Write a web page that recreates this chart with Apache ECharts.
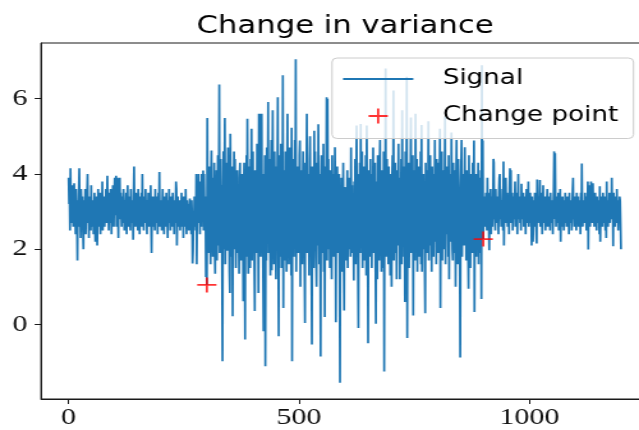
<!DOCTYPE html>
<html>
<head>
<meta charset="utf-8">
<script src="https://cdn.jsdelivr.net/npm/echarts@6/dist/echarts.min.js"></script>
<style>
  html, body { margin: 0; padding: 0; width: 639px; height: 430px; overflow: hidden; background: #fff; }
  /* the figure is laid out at its native width and widened to the page */
  #chart { width: 540px; height: 430px; transform: scaleX(1.278); transform-origin: 0 0; }
</style>
</head>
<body>
<div id="chart"></div>
<script>
// Signal, regime 1: low variance (samples 0-299)
const quietStart = [
  3.9, 3.2, 3.5, 2.5, 4.15, 3.0, 3.3, 2.7, 3.7, 3.1, 2.6, 3.4, 3.75, 2.9, 3.2, 2.4, 3.6, 3.0, 2.8, 1.7,
  3.3, 2.6, 3.5, 4.15, 2.9, 3.1, 2.3, 3.6, 3.2, 2.7, 3.4, 2.5, 2.0, 3.3, 3.0, 2.8, 3.6, 2.4, 3.1, 2.9,
  3.5, 4.0, 2.7, 3.0, 2.3, 3.4, 2.9, 3.2, 2.5, 3.7, 2.8, 3.1, 2.6, 3.3, 2.4, 3.0, 3.5, 2.7, 2.2, 3.2,
  2.9, 3.4, 2.1, 3.0, 3.6, 2.6, 3.2, 2.8, 3.5, 2.4, 3.1, 3.3, 2.7, 3.8, 2.5, 3.0, 2.9, 3.4, 2.6, 3.2,
  3.0, 3.6, 2.7, 3.3, 3.95, 2.8, 3.1, 2.5, 3.5, 3.0, 2.7, 3.6, 3.2, 2.4, 3.4, 2.9, 3.7, 3.1, 2.6, 3.5,
  3.9, 2.9, 3.4, 3.95, 2.6, 3.7, 3.9, 3.0, 2.3, 3.85, 3.3, 3.9, 2.8, 3.5, 3.1, 2.6, 3.4, 3.0, 2.7, 3.6,
  3.2, 2.5, 3.3, 3.0, 2.8, 3.5, 2.4, 3.1, 3.7, 2.9, 3.2, 2.6, 3.4, 3.0, 2.5, 3.6, 2.8, 3.3, 2.7, 3.1,
  2.25, 3.4, 4.2, 2.9, 3.2, 2.6, 3.5, 3.0, 2.7, 3.3, 2.5, 3.6, 2.9, 3.1, 2.4, 3.4, 3.0, 2.8, 3.5, 2.6,
  4.0, 2.9, 3.2, 2.5, 3.4, 3.0, 2.7, 3.6, 2.9, 3.1, 2.4, 3.3, 2.8, 3.5, 3.0, 2.6, 3.2, 2.9, 3.7, 2.7,
  1.9, 3.1, 2.8, 3.4, 2.6, 3.0, 3.3, 2.5, 3.6, 2.9, 3.2, 2.7, 3.4, 2.4, 3.0, 3.5, 2.8, 4.05, 2.6, 3.1,
  2.9, 3.3, 2.5, 3.0, 3.6, 2.7, 3.2, 2.4, 3.4, 2.9, 3.1, 2.6, 3.5, 2.8, 3.0, 2.3, 3.3, 2.9, 3.6, 2.7,
  3.1, 2.5, 3.4, 2.8, 3.0, 2.6, 3.5, 2.9, 3.2, 2.4, 3.3, 2.7, 3.0, 3.8, 3.6, 2.1, 2.9, 3.4, 2.6, 3.1,
  2.8, 3.3, 2.5, 3.1, 2.9, 3.5, 2.6, 3.0, 3.2, 2.3, 3.4, 2.8, 3.1, 2.6, 3.6, 2.9, 2.4, 3.3, 3.0, 2.7,
  3.2, 2.5, 3.0, 3.35, 2.8, 3.1, 2.4, 3.3, 2.9, 1.62, 1.96, 3.0, 2.6, 3.4, 2.8, 3.2, 2.5, 4.0, 1.6, 3.1,
  3.6, 2.7, 4.0, 2.9, 3.3, 2.4, 3.8, 3.0, 2.6, 4.0, 3.2, 2.8, 4.09, 2.5, 4.0, 3.0, 2.7, 3.4, 1.26, 2.8
];

// Signal, regime 2: high variance (samples 300-899)
const noisyMiddle = [
  1.05, 5.49, 2.4, 3.8, 1.9, 4.2, 2.7, 3.3, 1.6, 4.0, 4.62, 2.2, 3.5, 1.8, 3.9, 2.6, 4.3, 2.0, 1.35, 3.6,
  2.5, 4.1, 1.7, 3.2, 4.5, 2.1, 3.4, 6.38, 1.9, 3.0, 4.4, 2.3, 3.7, 1.5, -0.98, 3.3, 4.6, 2.0, 2.8, 5.49,
  1.6, 3.9, 2.6, 4.3, 1.96, 3.1, 4.7, 2.2, 3.5, 1.4, 0.84, 5.07, 2.9, 3.8, 1.8, 4.2, 0.22, 3.4, 2.5, 4.6,
  2.0, 4.4, 3.0, 1.5, 3.7, 2.3, 4.1, 1.9, 3.3, 2.7, 1.35, 3.9, 4.3, 2.1, 3.6, 1.7, 4.0, 2.8, 3.2, 0.62,
  3.5, 4.3, 2.4, -0.4, 3.8, 1.8, 4.5, 2.6, 5.47, 3.1, 1.35, 4.2, 2.0, 3.6, 1.5, 4.4, 2.9, 5.2, 1.7, 3.3,
  4.6, 2.2, 3.9, 1.6, 0.36, 4.1, 2.7, 3.4, 1.9, 4.8, 2.5, 3.7, 0.84, 5.6, 2.1, 4.3, 5.6, 1.8, 3.5, 5.6,
  2.4, 4.0, 1.5, -0.18, 3.8, 2.9, 4.5, -1.11, 3.2, 1.7, 4.7, 2.3, 3.6, 5.91, 1.9, 3.0, 4.4, 2.6, 1.3, 3.9,
  4.9, 1.44, 3.4, 5.69, 2.1, 3.7, 1.6, 4.6, 2.8, 3.3, 1.2, 4.2, 2.5, 3.9, 6.04, 2.0, -0.31, 4.5, 1.8, 3.5,
  2.7, 4.8, 1.5, 3.6, 2.2, 6.62, 0.44, 4.1, 2.9, 3.4, 1.7, 4.6, 2.4, 1.4, 3.8, 5.6, 2.0, 4.3, 1.6, 3.1,
  4.7, 2.5, 3.6, 1.3, 5.23, -0.98, 3.9, 2.2, 4.4, 1.8, 3.3, 4.9, 2.6, 7.05, 1.4, 3.7, 2.9, 4.2, 1.9, 3.5,
  2.3, 4.5, 4.89, 1.0, 3.8, 2.7, 4.1, 1.6, 3.4, 4.6, 2.0, 3.1, 1.5, 0.04, 4.3, 2.8, 3.6, 5.6, 1.9, 4.0,
  2.4, 3.7, 1.3, 4.4, 5.0, 2.6, 3.3, 1.7, -0.53, 4.2, 2.9, 3.8, 1.5, 5.15, 2.2, 4.6, 3.0, 1.8, 1.0, 3.9,
  4.3, 2.1, 5.32, 3.5, 1.6, 4.0, 2.7, -0.85, 3.6, 4.5, 1.9, 3.2, 2.5, 4.8, 1.4, 3.7, 0.2, 4.2, 2.3, 3.4,
  6.04, 1.7, 6.0, 3.1, 4.4, 2.0, 3.8, 1.5, 4.1, 2.6, 3.3, 1.2, 4.5, 2.9, 3.6, 1.8, 4.0, 2.4, 4.71, 3.0,
  0.06, 3.7, 2.5, 4.2, 1.9, 3.4, 2.8, 4.0, 1.6, -1.55, 3.5, 2.2, 3.9, 1.4, 3.1, 2.7, 4.3, 2.0, 0.37, 3.6,
  2.4, 3.65, 1.7, 3.2, 2.8, 4.1, 1.5, 3.4, 2.6, 3.9, 2.0, 3.0, 1.8, 4.7, 2.5, 3.7, 1.9, 3.3, 2.9, 1.17,
  3.8, 2.3, 4.4, 1.6, 3.5, 5.29, 2.1, 4.0, 1.4, -0.09, 3.6, 2.7, 4.3, 1.9, 5.33, 3.1, 2.4, 4.6, 1.5, 3.4,
  2.8, 4.2, 1.7, 3.9, 2.2, 4.5, 1.3, 5.29, 3.0, 2.5, -0.5, 4.1, 2.9, 3.6, 1.8, 4.4, 2.3, 3.7, 1.5, 4.0,
  2.6, 4.7, 1.9, 3.4, 2.1, 4.3, 1.6, 0.02, 3.8, 2.7, 1.2, 4.5, 2.4, 3.5, 1.7, 4.2, 4.9, 2.0, 3.6, 1.4,
  4.1, 2.8, 3.3, 1.5, 4.6, -1.25, 3.9, 2.3, 6.8, 1.8, 3.5, 4.4, 2.6, 3.0, 1.6, 4.2, 2.2, 3.7, 1.3, 4.0,
  2.9, 1.0, 3.8, 4.5, 2.4, 6.22, 1.7, 3.4, 2.8, 4.3, 1.9, 3.6, 1.2, 4.1, 2.5, 3.2, 4.8, 2.1, 3.9, 1.2,
  3.5, 2.7, 4.4, 1.6, 5.69, 3.0, 2.2, 4.2, 1.8, 3.7, 0.6, 4.6, 2.4, 3.3, 6.58, -0.36, 3.9, 2.0, 4.3, 1.5,
  3.6, 2.8, 4.0, 5.5, 1.9, 3.4, 2.5, 4.5, 0.24, 3.8, 2.2, 4.1, 1.7, 5.6, 3.1, 2.6, 4.4, 1.4, 3.5, 2.9,
  4.2, 1.8, 3.7, 2.3, 4.6, 1.6, 5.3, 1.4, 3.9, 2.7, 4.0, 2.0, 3.4, 1.5, 0.3, 4.3, 2.5, 3.6, 1.9, 4.1,
  2.8, 5.4, 1.7, 3.8, 2.4, 4.5, 2.1, 3.3, 1.4, 4.2, 2.9, 3.6, 1.8, 4.0, 2.6, 4.9, 2.2, 3.5, 1.6, 4.4,
  2.7, 3.9, 1.9, 4.3, 2.3, 3.6, 5.2, 0.44, 3.4, 2.8, 4.6, 1.7, 3.7, 2.5, 4.1, 2.0, 3.2, 5.53, 1.6, 3.8,
  2.4, 4.2, 2.9, 3.5, 1.8, 4.5, 1.2, 3.6, 2.6, 4.0, 2.2, 5.1, 3.1, 2.0, 1.7, 4.3, 2.7, 3.4, 1.9, 4.1,
  1.0, 3.7, 4.9, 2.3, 3.9, 1.6, 4.4, 2.8, 3.2, 2.0, -0.88, 3.5, 4.2, 4.9, 1.8, 3.6, 2.5, 4.0, 2.1, 3.3,
  4.71, 2.4, 3.8, 1.7, 4.1, 2.7, 3.4, 2.0, 0.95, 4.5, 2.9, 3.6, 1.5, 4.0, 2.3, 3.7, 1.9, 4.3, 2.6, 3.2,
  4.89, 0.33, 3.5, 2.2, 4.0, 1.8, 3.6, 2.7, 3.1, 4.3, 1.6, 3.9, 2.4, 3.4, 1.9, 4.1, 0.68, 6.89, 2.8, 4.89
];

// Signal, regime 3: low variance again (samples 900-1199)
const quietEnd = [
  2.27, 3.2, 2.8, 3.4, 2.6, 3.1, 3.5, 2.9, 2.5, 3.9, 3.0, 3.5, 2.7, 1.97, 3.3, 2.9, 3.6, 2.4, 3.1, 3.4,
  2.6, 3.0, 4.4, 4.3, 2.8, 3.3, 2.5, 3.6, 3.0, 2.7, 3.4, 2.9, 3.2, 2.4, 3.5, 3.9, 4.0, 2.8, 3.1, 2.6,
  3.3, 2.9, 3.6, 2.5, 4.33, 2.1, 3.2, 2.8, 3.4, 3.9, 2.7, 3.1, 3.5, 2.6, 3.0, 3.3, 2.4, 3.6, 4.15, 2.9,
  4.1, 2.7, 3.2, 3.5, 2.5, 3.0, 3.4, 2.8, 3.1, 3.8, 2.6, 3.3, 2.9, 3.5, 2.4, 3.2, 4.0, 2.8, 3.0, 3.4,
  2.7, 3.1, 2.5, 3.74, 3.0, 2.8, 3.3, 3.5, 2.6, 3.2, 2.9, 3.4, 2.4, 3.1, 3.6, 2.7, 3.0, 3.3, 3.8, 2.6,
  3.2, 2.9, 3.5, 2.7, 3.1, 2.1, 3.4, 2.8, 2.2, 3.0, 3.3, 2.6, 3.5, 2.9, 3.2, 2.5, 2.15, 3.85, 3.0, 2.7,
  3.4, 2.8, 3.1, 3.84, 2.6, 3.3, 2.9, 3.5, 2.4, 3.0, 3.7, 2.7, 3.2, 2.9, 3.4, 2.5, 3.1, 2.8, 3.3, 3.6,
  2.6, 3.0, 3.4, 2.8, 3.2, 2.5, 3.5, 2.9, 3.1, 2.7, 3.3, 2.4, 3.0, 3.6, 4.6, 2.8, 4.55, 3.2, 2.6, 3.4,
  2.9, 3.1, 2.7, 3.5, 2.5, 3.2, 2.9, 3.6, 2.2, 3.0, 3.3, 2.6, 3.4, 2.8, 3.1, 2.5, 3.3, 2.9, 3.5, 2.7,
  3.2, 2.6, 3.0, 3.4, 2.8, 3.1, 2.4, 3.5, 2.9, 3.2, 2.7, 3.3, 2.5, 3.0, 3.6, 3.9, 2.8, 3.1, 2.6, 3.4,
  2.9, 3.2, 2.5, 3.5, 2.8, 3.0, 3.4, 2.6, 3.3, 2.9, 3.1, 2.4, 3.5, 2.7, 4.28, 3.0, 2.6, 3.3, 2.9, 3.2,
  2.7, 3.5, 2.9, 3.1, 2.5, 3.4, 2.8, 3.8, 1.99, 3.2, 3.0, 3.7, 2.6, 3.3, 3.8, 2.9, 3.1, 2.7, 3.75, 2.8,
  3.3, 2.6, 3.0, 3.5, 2.8, 3.2, 2.5, 3.4, 2.9, 3.1, 2.7, 3.3, 2.4, 3.67, 2.2, 3.0, 3.4, 2.8, 3.2, 2.6,
  3.5, 2.9, 3.1, 2.7, 3.4, 2.5, 3.0, 2.3, 3.8, 2.8, 3.3, 2.6, 3.2, 2.9, 3.5, 2.7, 3.1, 3.4, 2.8, 3.9,
  3.0, 3.3, 2.08, 3.5, 2.9, 3.2, 2.6, 3.4, 3.0, 2.7, 3.6, 2.9, 3.1, 2.5, 3.3, 2.8, 3.4, 3.3, 2.7, 2.0
];

const xTicks = [0, 500, 1000];
const yTicks = [0, 2, 4, 6];
const titleText = 'Change in variance';
const signalName = 'Signal';
const changeName = 'Change point';

const signal = quietStart.concat(noisyMiddle, quietEnd);
// a change point sits at the first sample of each new regime
const changePoints = [quietStart.length, quietStart.length + noisyMiddle.length];

// axis limits with a 5% margin on each side of the data
const n = signal.length;
const xPad = 0.05 * (n - 1);
const yLo = Math.min.apply(null, signal);
const yHi = Math.max.apply(null, signal);
const yPad = 0.05 * (yHi - yLo);

const ink = '#1a1a1a';
const lineColor = '#1f77b4';
const plusSymbol = 'path://M0,4.4H10V5.6H0Z M4.4,0H5.6V10H4.4Z';
const lineIcon = 'path://M0,0H55V1.8H0Z';
const tickFont = { fontFamily: 'Liberation Serif', fontSize: 23.5, color: '#111' };
const plainNumber = function (v) { return String(v); };

const chart = echarts.init(document.getElementById('chart'), null, { renderer: 'canvas' });
chart.setOption({
  animation: false,
  backgroundColor: '#fff',
  title: {
    text: titleText,
    left: 'center',
    top: 15,
    padding: 0,
    textStyle: { fontFamily: 'DejaVu Sans', fontSize: 24, fontWeight: 'normal', color: '#000' }
  },
  grid: {
    left: 32.1, right: 32.5, top: 43, bottom: 31,
    show: true, borderColor: ink, borderWidth: 1, backgroundColor: 'transparent',
    containLabel: false, outerBoundsMode: 'none'
  },
  legend: {
    orient: 'vertical',
    left: 259.8, top: 58,
    padding: [10.5, 12, 12, 8.6],
    itemWidth: 55, itemHeight: 15, itemGap: 16,
    backgroundColor: 'rgba(255,255,255,0.8)',
    borderColor: '#cccccc', borderWidth: 1, borderRadius: 4,
    textStyle: { fontFamily: 'DejaVu Sans', fontSize: 20.5, color: '#000', lineHeight: 15, padding: [5, 0, 0, 18] },
    data: [
      { name: signalName, icon: lineIcon },
      { name: changeName, icon: plusSymbol }
    ]
  },
  xAxis: {
    type: 'value',
    min: -xPad, max: n - 1 + xPad,
    splitLine: { show: false },
    axisLine: { show: true, onZero: false, lineStyle: { color: ink, width: 1 } },
    axisTick: { show: true, length: 5, customValues: xTicks, lineStyle: { color: ink, width: 1 } },
    axisLabel: Object.assign({ customValues: xTicks, margin: 7, formatter: plainNumber }, tickFont)
  },
  yAxis: {
    type: 'value',
    min: yLo - yPad, max: yHi + yPad,
    splitLine: { show: false },
    axisLine: { show: true, onZero: false, lineStyle: { color: ink, width: 1 } },
    axisTick: { show: true, length: 5, customValues: yTicks, lineStyle: { color: ink, width: 1 } },
    axisLabel: Object.assign({ customValues: yTicks, margin: 10.5, formatter: plainNumber }, tickFont)
  },
  series: [
    {
      name: signalName,
      type: 'line',
      data: signal.map(function (v, i) { return [i, v]; }),
      showSymbol: false,
      symbol: 'none',
      lineStyle: { color: lineColor, width: 1.7 },
      itemStyle: { color: lineColor },
      z: 2
    },
    {
      name: changeName,
      type: 'scatter',
      data: changePoints.map(function (i) { return [i, signal[i]]; }),
      symbol: plusSymbol,
      symbolSize: 15,
      itemStyle: { color: '#ff0000' },
      z: 3
    }
  ]
});
</script>
</body>
</html>
